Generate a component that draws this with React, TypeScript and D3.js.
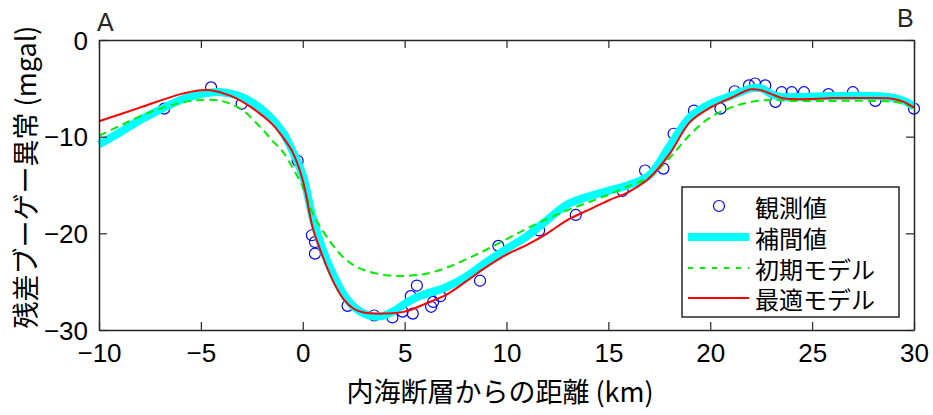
import React, { useEffect, useRef } from "react";
import * as d3 from "d3";

// observed points (観測値)
const obsX = [-6.8, -4.5, -3, -0.25, 0.45, 0.6, 0.6, 2.2, 3.5, 4.4, 4.9, 5.4, 5.3, 5.6, 6.3, 6.4, 6.75, 8.7, 9.6, 11.6, 13.4, 15.7, 16.8, 17.7, 18.2, 19.2, 20.5, 21.2, 21.9, 22.2, 22.7, 23.2, 23.5, 24, 24.6, 25.8, 27, 28.1, 30];
const obsY = [-7.1, -4.9, -6.6, -12.5, -20.2, -20.9, -22.1, -27.5, -28.5, -28.7, -28.1, -28.3, -26.5, -25.4, -27.6, -27.1, -26.5, -24.9, -21.3, -19.7, -18.1, -15.6, -13.5, -13.3, -9.7, -7.3, -7.1, -5.3, -4.7, -4.5, -4.7, -6.4, -5.4, -5.4, -5.4, -5.6, -5.4, -6.3, -7.1];

// interpolated (補間値)
const interpX = [-10, -9, -8, -7, -6, -5, -4, -3, -2, -1, -0.5, 0, 0.5, 1, 1.5, 2, 2.5, 3, 3.5, 4, 4.5, 5, 5.5, 6, 7, 8, 9, 10, 11, 12, 13, 14, 15, 16, 17, 18, 19, 20, 21, 22, 22.5, 23, 23.5, 24, 26, 28, 29, 29.5, 30];
const interpY = [-10.8, -9.6, -8.3, -7.2, -6.2, -5.6, -5.4, -5.9, -7.2, -9.5, -11.5, -14, -18.5, -21.8, -24.3, -26.3, -27.6, -28.3, -28.6, -28.5, -28.0, -27.3, -26.7, -26.3, -25.6, -24.5, -23, -21.6, -20.3, -18.6, -17, -16.2, -15.6, -15, -14, -11, -8, -6.6, -5.8, -5.0, -5.0, -5.6, -5.9, -5.9, -5.8, -5.8, -6.0, -6.3, -6.9];

// initial model (初期モデル)
const initX = [-10, -9, -8, -7, -6, -5, -4, -3, -2, -1.5, -1, -0.5, 0, 0.5, 1, 1.5, 2, 2.5, 3, 4, 5, 6, 7, 8, 9, 10, 11, 12, 13, 14, 15, 16, 17, 18, 19, 20, 21, 22, 23, 24, 26, 28, 29, 29.5, 30];
const initY = [-9.9, -8.9, -7.9, -7.1, -6.5, -6.2, -6.3, -7.2, -9.2, -10.4, -11.5, -13.2, -15.2, -18.0, -19.8, -21.3, -22.5, -23.3, -23.8, -24.3, -24.4, -24.2, -23.6, -22.7, -21.7, -20.6, -19.5, -18.5, -17.6, -16.8, -16, -15.1, -14.2, -12.2, -9.8, -8, -7, -6.4, -6.2, -6.3, -6.3, -6.3, -6.4, -6.6, -7];

// best model (最適モデル)
const bestX = [-10, -8, -6, -5, -4.5, -3.5, -2.5, -1.5, -1, -0.5, 0, 0.5, 1, 1.5, 2, 2.5, 3, 4, 5, 6, 7, 8, 9, 10, 11, 12, 13, 14, 15, 16, 17, 18, 19, 20, 21, 22, 22.5, 23, 23.5, 24, 25, 26, 27, 28, 29, 29.5, 30];
const bestY = [-8.4, -7.0, -5.6, -5.2, -5.2, -5.8, -7.0, -8.7, -10.0, -11.6, -14.5, -19.5, -22.5, -25, -26.8, -27.8, -28.2, -28.3, -28.1, -27.3, -26.4, -25, -23.5, -22.2, -21.2, -20, -18.6, -17.6, -16.6, -15.7, -14.3, -11.8, -8.5, -7.0, -6.0, -5.1, -5.2, -5.6, -6.0, -6.1, -6.1, -6.0, -6.0, -6.0, -6.1, -6.4, -7.0];

const xTicks = [-10, -5, 0, 5, 10, 15, 20, 25, 30];
const yTicks = [0, -10, -20, -30];

const legendLabels = ["観測値", "補間値", "初期モデル", "最適モデル"];

const width = 933;
const height = 415;
const margin = { top: 40, right: 19, bottom: 85, left: 99 };
const numFont = "'Liberation Sans', Arial, sans-serif";
const jpFont = "'Noto Sans CJK JP', 'Noto Sans', sans-serif";
const axisColor = "#262626";

const App = () => {
  const svgRef = useRef(null);

  useEffect(() => {
    const svg = d3.select(svgRef.current);
    svg.selectAll("*").remove();

    const x = d3.scaleLinear().domain([-10, 30]).range([margin.left, width - margin.right]);
    const y = d3.scaleLinear().domain([-30, 0]).range([height - margin.bottom, margin.top]);

    const line = d3
      .line<[number, number]>()
      .x((d) => x(d[0]))
      .y((d) => y(d[1]))
      .curve(d3.curveCatmullRom.alpha(0.5));

    const zip = (xs, ys) => xs.map((v, i) => [v, ys[i]] as [number, number]);

    svg.append("rect").attr("width", width).attr("height", height).attr("fill", "#fff");

    // observed
    svg
      .append("g")
      .selectAll("circle")
      .data(zip(obsX, obsY))
      .enter()
      .append("circle")
      .attr("cx", (d) => x(d[0]))
      .attr("cy", (d) => y(d[1]))
      .attr("r", 5.5)
      .attr("fill", "none")
      .attr("stroke", "#0000ff")
      .attr("stroke-width", 1.2);

    svg
      .append("path")
      .attr("d", line(zip(interpX, interpY)))
      .attr("fill", "none")
      .attr("stroke", "#00ffff")
      .attr("stroke-width", 8)
      .attr("stroke-linejoin", "round");

    svg
      .append("path")
      .attr("d", line(zip(initX, initY)))
      .attr("fill", "none")
      .attr("stroke", "#00ee00")
      .attr("stroke-width", 2)
      .attr("stroke-dasharray", "8,5");

    svg
      .append("path")
      .attr("d", line(zip(bestX, bestY)))
      .attr("fill", "none")
      .attr("stroke", "#ff0000")
      .attr("stroke-width", 2);

    // axes box with inward ticks
    const gx = svg.append("g").attr("transform", `translate(0, ${y(-30)})`);
    gx.call(d3.axisBottom(x).tickValues(xTicks).tickSizeInner(-8).tickSizeOuter(0).tickPadding(14));
    const gxTop = svg.append("g").attr("transform", `translate(0, ${y(0)})`);
    gxTop.call(d3.axisTop(x).tickValues(xTicks).tickSizeInner(-8).tickSizeOuter(0).tickFormat(() => ""));
    const gy = svg.append("g").attr("transform", `translate(${x(-10)}, 0)`);
    gy.call(d3.axisLeft(y).tickValues(yTicks).tickSizeInner(-8).tickSizeOuter(0).tickPadding(11));
    const gyRight = svg.append("g").attr("transform", `translate(${x(30)}, 0)`);
    gyRight.call(d3.axisRight(y).tickValues(yTicks).tickSizeInner(-8).tickSizeOuter(0).tickFormat(() => ""));

    [gx, gxTop, gy, gyRight].forEach((g) => {
      g.selectAll("path.domain").attr("stroke", axisColor).attr("stroke-width", 1.5);
      g.selectAll(".tick line").attr("stroke", axisColor).attr("stroke-width", 1.2);
      g.selectAll(".tick text")
        .attr("fill", "#000")
        .style("font-family", numFont)
        .style("font-size", "26px");
    });
    gx.selectAll(".tick text").attr("dy", "0.71em");
    gy.selectAll(".tick text").attr("dy", "0.35em");

    // A / B
    svg.append("text").attr("x", 97).attr("y", 31).text("A")
      .style("font-family", numFont).style("font-size", "25px").attr("fill", axisColor);
    svg.append("text").attr("x", 897).attr("y", 27).text("B")
      .style("font-family", numFont).style("font-size", "25px").attr("fill", axisColor);

    // axis labels
    svg
      .append("text")
      .attr("x", 500)
      .attr("y", 402)
      .attr("text-anchor", "middle")
      .style("font-family", jpFont)
      .style("font-size", "27px")
      .attr("fill", "#000")
      .text("内海断層からの距離 (km)");

    svg
      .append("text")
      .attr("transform", `translate(24, 177) rotate(-90)`)
      .attr("text-anchor", "middle")
      .attr("dominant-baseline", "central")
      .style("font-family", jpFont)
      .style("font-size", "27px")
      .attr("fill", "#000")
      .text("残差ブーゲー異常 (mgal)");

    // legend
    const lg = svg.append("g");
    lg.append("rect")
      .attr("x", 682)
      .attr("y", 187)
      .attr("width", 217)
      .attr("height", 130)
      .attr("fill", "#fff")
      .attr("stroke", axisColor)
      .attr("stroke-width", 1.5);

    const rowY = [206, 237, 268, 298];
    lg.append("circle").attr("cx", 719).attr("cy", rowY[0]).attr("r", 5.5)
      .attr("fill", "none").attr("stroke", "#0000ff").attr("stroke-width", 1.2);
    lg.append("line").attr("x1", 688).attr("x2", 749).attr("y1", rowY[1]).attr("y2", rowY[1])
      .attr("stroke", "#00ffff").attr("stroke-width", 8);
    lg.append("line").attr("x1", 688).attr("x2", 749).attr("y1", rowY[2]).attr("y2", rowY[2])
      .attr("stroke", "#00ee00").attr("stroke-width", 2).attr("stroke-dasharray", "5,7");
    lg.append("line").attr("x1", 688).attr("x2", 749).attr("y1", rowY[3]).attr("y2", rowY[3])
      .attr("stroke", "#ff0000").attr("stroke-width", 2);

    lg.selectAll("text.lab")
      .data(legendLabels)
      .enter()
      .append("text")
      .attr("class", "lab")
      .attr("x", 755)
      .attr("y", (d, i) => rowY[i])
      .attr("dominant-baseline", "central")
      .style("font-family", jpFont)
      .style("font-size", "24px")
      .attr("fill", "#000")
      .text((d) => d);
  }, []);

  return (
    <svg
      ref={svgRef}
      width={width}
      height={height}
      style={{ position: "absolute", left: 0, top: 0, display: "block" }}
    ></svg>
  );
};

export default App;
